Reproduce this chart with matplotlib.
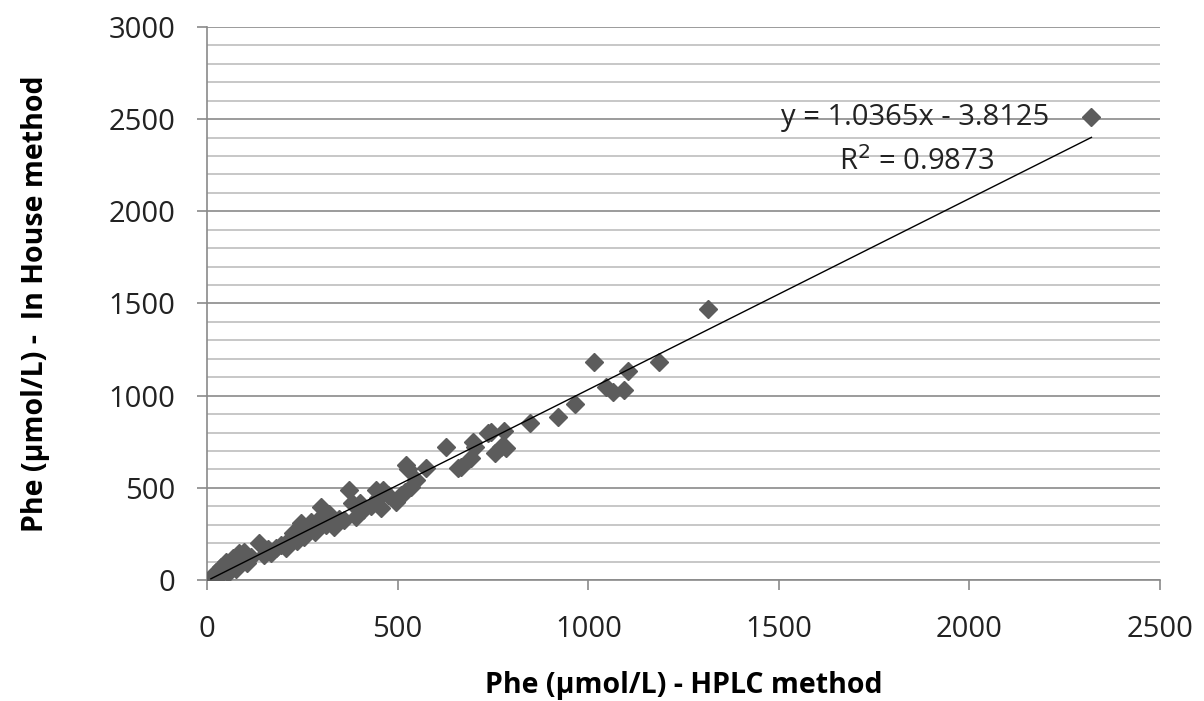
import numpy as np
import matplotlib
matplotlib.use("Agg")
import matplotlib.pyplot as plt
from matplotlib.ticker import MultipleLocator

# Phe values (umol/L)
hplc = [10, 15, 24, 30, 37, 50, 55, 67, 75, 85, 98, 105, 115, 137, 150, 160,
        168, 181, 194, 207, 216, 225, 235, 247, 255, 262, 273, 282, 299, 299,
        312, 320, 334, 345, 360, 373, 380, 391, 400, 410, 430, 444, 448, 457,
        461, 475, 496, 509, 518, 522, 527, 535, 549, 575, 627, 658, 667, 693,
        697, 702, 737, 745, 754, 772, 780, 785, 846, 920, 964, 1015, 1047,
        1065, 1095, 1104, 1185, 1314, 2320]
in_house = [10, 5, 45, 20, 72, 99, 40, 118, 60, 145, 154, 90, 127, 199, 136, 170,
            145, 172, 190, 172, 217, 253, 210, 308, 235, 280, 316, 262, 398, 344,
            298, 360, 289, 330, 326, 488, 420, 344, 416, 380, 400, 488, 443, 389,
            488, 460, 425, 461, 479, 624, 600, 506, 543, 606, 723, 606, 615, 660,
            750, 720, 796, 805, 687, 723, 810, 715, 850, 883, 955, 1185, 1046,
            1022, 1031, 1133, 1185, 1469, 2510]

# linear trendline as printed on the chart
slope = 1.0365
intercept = -3.8125
r_squared = 0.9873

x_ticks = [0, 500, 1000, 1500, 2000, 2500]
y_ticks = [0, 500, 1000, 1500, 2000, 2500, 3000]

plt.rcParams['font.family'] = ['Open Sans', 'DejaVu Sans']

fig = plt.figure(figsize=(12.04, 7.01), dpi=100)
ax = fig.add_axes([0.172, 0.1726, 0.7915, 0.789])

ax.set_xlim(0, 2500)
ax.set_ylim(0, 3000)
ax.set_xticks(x_ticks)
ax.set_yticks(y_ticks)
ax.yaxis.set_minor_locator(MultipleLocator(100))

# gridlines: minor every 100, major every 500
ax.grid(which='minor', axis='y', color='#bdbdbd', linewidth=1.2)
ax.grid(which='major', axis='y', color='#8a8a8a', linewidth=1.2)
ax.set_axisbelow(True)

for side in ['top', 'right']:
    ax.spines[side].set_visible(False)
for side in ['left', 'bottom']:
    ax.spines[side].set_color('#8a8a8a')
    ax.spines[side].set_linewidth(1.2)

ax.tick_params(axis='both', which='major', direction='out', length=7,
               width=1.2, color='#8a8a8a', labelsize=21, labelcolor='#222222')
ax.tick_params(axis='y', which='minor', length=0)
ax.tick_params(axis='x', pad=18)
ax.tick_params(axis='y', pad=16)

ax.plot(hplc, in_house, linestyle='none', marker='D', markersize=9.5,
        color='#5c5c5c', zorder=3)

xs = np.array([min(hplc), max(hplc)])
ax.plot(xs, slope * xs + intercept, color='black', linewidth=1.0, zorder=4)

ax.text(1858, 2507, 'y = %.4fx - %.4f' % (slope, abs(intercept)),
        ha='center', va='center', fontsize=21, color='#222222')
ax.text(1862, 2268, 'R$^2$ = %.4f' % r_squared,
        ha='center', va='center', fontsize=21, color='#222222')

ax.set_xlabel('Phe (µmol/L) - HPLC method', fontsize=20.5, fontweight='bold')
ax.set_ylabel('Phe (µmol/L) -  In House method', fontsize=20.5, fontweight='bold')
ax.xaxis.set_label_coords(0.5, -0.165)
ax.yaxis.set_label_coords(-0.165, 0.5)

fig.savefig('out.png', dpi=100)
